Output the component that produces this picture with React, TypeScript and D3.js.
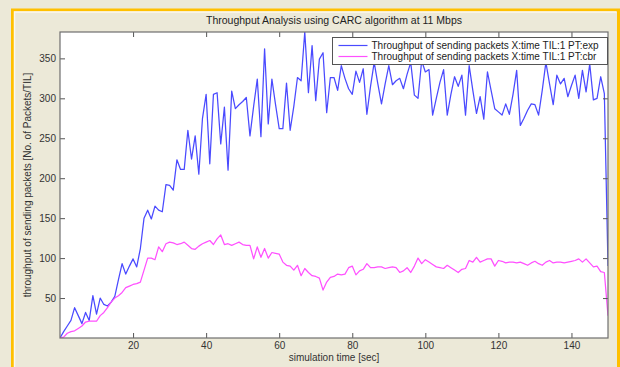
import React, { useEffect, useRef } from "react";
import * as d3 from "d3";

const width = 620;
const height = 367;
const margin = { top: 32, right: 12, bottom: 28, left: 60 };
const font = "'Liberation Sans', Arial, sans-serif";

// simulation time, one sample per second
const timeSec: number[] = d3.range(0, 151);

const expThroughput = [
  0, 8, 15, 22, 38, 28, 18, 32, 22, 53,
  30, 50, 42, 40, 45, 52, 73, 93, 80, 90,
  99, 89, 112, 150, 160, 149, 165, 160, 158, 192,
  191, 185, 223, 211, 211, 260, 224, 253, 205, 275,
  305, 218, 305, 307, 243, 289, 210, 309, 287, 292,
  296, 301, 253, 290, 324, 252, 362, 268, 324, 292,
  262, 262, 319, 260, 290, 326, 322, 383, 307, 366,
  297, 349, 357, 282, 326, 326, 310, 341, 325, 312,
  305, 334, 320, 337, 280, 315, 345, 318, 293, 318,
  341, 317, 322, 325, 312, 330, 345, 304, 300, 347,
  333, 336, 279, 300, 320, 336, 279, 305, 327, 315,
  329, 279, 341, 310, 281, 302, 274, 333, 310, 287,
  283, 279, 293, 280, 305, 335, 266, 275, 285, 293,
  292, 279, 310, 345, 318, 292, 329, 318, 325, 302,
  316, 329, 300, 335, 308, 343, 298, 300, 327, 306,
  90,
];

const cbrThroughput = [
  0, 1, 6, 8, 9, 12, 15, 20, 21, 21,
  21, 28, 32, 38, 45, 50, 53, 57, 63, 65,
  67, 68, 70, 85, 100, 100, 98, 114, 108, 118,
  120, 119, 117, 118, 120, 116, 112, 111, 115, 118,
  120, 122, 117, 124, 129, 117, 118, 116, 118, 120,
  117, 116, 116, 99, 114, 101, 112, 100, 107, 106,
  105, 95, 91, 90, 85, 91, 78, 87, 82, 78,
  77, 75, 60, 70, 76, 77, 80, 79, 80, 88,
  90, 79, 84, 86, 93, 88, 88, 89, 89, 87,
  88, 89, 88, 82, 84, 88, 82, 90, 100, 93,
  98, 95, 92, 89, 88, 87, 91, 88, 85, 82,
  86, 87, 97, 95, 101, 95, 97, 99, 99, 90,
  97, 96, 94, 95, 95, 94, 95, 93, 91, 94,
  96, 93, 91, 95, 97, 94, 95, 95, 94, 95,
  96, 97, 99, 95, 99, 94, 89, 90, 83, 82,
  28,
];

const xTicks = [20, 40, 60, 80, 100, 120, 140];
const yTicks = [50, 100, 150, 200, 250, 300, 350];

const seriesNames = [
  "Throughput of sending packets X:time TIL:1 PT:exp",
  "Throughput of sending packets X:time TIL:1 PT:cbr",
];
const seriesColors = ["#4a4aff", "#ff50ff"];

export default function App() {
  const ref = useRef<SVGSVGElement | null>(null);

  useEffect(() => {
    const svg = d3.select(ref.current);
    svg.selectAll("*").remove();

    const x = d3.scaleLinear().domain([0, 150]).range([margin.left, width - margin.right]);
    const y = d3.scaleLinear().domain([0, 383]).range([height - margin.bottom - 1, margin.top]);

    // figure background + orange frame
    svg.append("rect").attr("width", width).attr("height", height).attr("fill", "#ece9d8");
    svg.append("path")
      .attr("d", `M12.5,${height} V10 H618.5 V${height}`)
      .attr("fill", "none").attr("stroke", "#ffc000").attr("stroke-width", 3);
    svg.append("path")
      .attr("d", `M14.5,${height} V12 H616.5`)
      .attr("fill", "none").attr("stroke", "#fbf8ee").attr("stroke-width", 1.5);

    const left = margin.left, right = width - margin.right;
    const top = margin.top, bottom = height - margin.bottom - 1;

    svg.append("rect")
      .attr("x", left).attr("y", top)
      .attr("width", right - left).attr("height", bottom - top)
      .attr("fill", "white");

    svg.append("clipPath").attr("id", "plotclip")
      .append("rect")
      .attr("x", left).attr("y", top)
      .attr("width", right - left).attr("height", bottom - top);

    const line = d3.line<number>()
      .x((d, i) => x(timeSec[i]))
      .y(d => y(d));

    const plot = svg.append("g").attr("clip-path", "url(#plotclip)");
    [expThroughput, cbrThroughput].forEach((s, i) => {
      plot.append("path")
        .datum(s)
        .attr("fill", "none")
        .attr("stroke", seriesColors[i])
        .attr("stroke-width", 1.25)
        .attr("stroke-linejoin", "round")
        .attr("d", line);
    });

    // axes, ticks pointing inward on all four sides
    const styleAxis = (g: any) => {
      g.select(".domain").remove();
      g.selectAll(".tick line").attr("stroke", "#555");
      g.selectAll(".tick text")
        .attr("fill", "#333")
        .style("font-family", font)
        .style("font-size", "10px");
    };

    svg.append("g")
      .attr("transform", `translate(0,${bottom})`)
      .call(d3.axisBottom(x).tickValues(xTicks).tickSize(-5).tickPadding(4))
      .call(styleAxis);
    svg.append("g")
      .attr("transform", `translate(0,${top})`)
      .call(d3.axisTop(x).tickValues(xTicks).tickSize(-5).tickFormat(() => ""))
      .call(styleAxis);
    svg.append("g")
      .attr("transform", `translate(${left},0)`)
      .call(d3.axisLeft(y).tickValues(yTicks).tickSize(-5).tickPadding(4))
      .call(styleAxis);
    svg.append("g")
      .attr("transform", `translate(${right},0)`)
      .call(d3.axisRight(y).tickValues(yTicks).tickSize(-5).tickFormat(() => ""))
      .call(styleAxis);

    svg.append("rect")
      .attr("x", left).attr("y", top)
      .attr("width", right - left).attr("height", bottom - top)
      .attr("fill", "none").attr("stroke", "#6e6e6e").attr("stroke-width", 1.2);

    // legend
    const lg = svg.append("g").attr("transform", "translate(332.5,37.5)");
    lg.append("rect")
      .attr("width", 275).attr("height", 27)
      .attr("fill", "white").attr("stroke", "#555").attr("stroke-width", 1);
    seriesNames.forEach((name, i) => {
      const ly = 8 + i * 11;
      lg.append("line")
        .attr("x1", 6).attr("x2", 35).attr("y1", ly).attr("y2", ly)
        .attr("stroke", seriesColors[i]).attr("stroke-width", 1.2);
      lg.append("text")
        .attr("x", 39).attr("y", ly + 3.5)
        .attr("fill", "#222")
        .style("font-family", font).style("font-size", "10px")
        .text(name);
    });

    // title and labels
    svg.append("text")
      .attr("x", (left + right) / 2).attr("y", 24)
      .attr("text-anchor", "middle").attr("fill", "#222")
      .style("font-family", font).style("font-size", "10.5px")
      .text("Throughput Analysis using CARC algorithm at 11 Mbps");
    svg.append("text")
      .attr("x", (left + right) / 2).attr("y", 361)
      .attr("text-anchor", "middle").attr("fill", "#333")
      .style("font-family", font).style("font-size", "10px")
      .text("simulation time [sec]");
    svg.append("text")
      .attr("transform", `translate(31,${(top + bottom) / 2}) rotate(-90)`)
      .attr("text-anchor", "middle").attr("fill", "#333")
      .style("font-family", font).style("font-size", "10px")
      .text("throughput of sending packets [No. of Packets/TIL]");
  }, []);

  return (
    <svg
      ref={ref}
      width={width}
      height={height}
      style={{ position: "absolute", left: 0, top: 0, display: "block" }}
    />
  );
}
